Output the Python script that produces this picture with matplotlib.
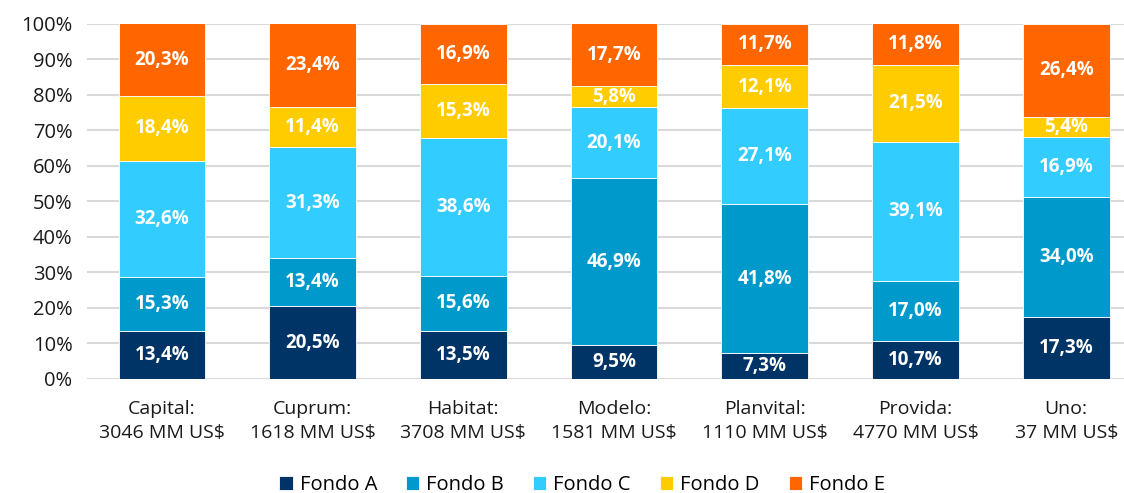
import matplotlib
matplotlib.use("Agg")
import matplotlib.pyplot as plt
import numpy as np

categories = ["Capital:\n3046 MM US$", "Cuprum:\n1618 MM US$", "Habitat:\n3708 MM US$",
              "Modelo:\n1581 MM US$", "Planvital:\n1110 MM US$", "Provida:\n4770 MM US$",
              "Uno:\n37 MM US$"]
fondo_a = [13.4, 20.5, 13.5, 9.5, 7.3, 10.7, 17.3]
fondo_b = [15.3, 13.4, 15.6, 46.9, 41.8, 17.0, 34.0]
fondo_c = [32.6, 31.3, 38.6, 20.1, 27.1, 39.1, 16.9]
fondo_d = [18.4, 11.4, 15.3, 5.8, 12.1, 21.5, 5.4]
fondo_e = [20.3, 23.4, 16.9, 17.7, 11.7, 11.8, 26.4]
series_names = ["Fondo A", "Fondo B", "Fondo C", "Fondo D", "Fondo E"]
colors = ["#003366", "#0099CC", "#33CCFF", "#FFCC00", "#FF6600"]

plt.rcParams['font.family'] = ['Open Sans', 'DejaVu Sans']

fig = plt.figure(figsize=(11.24, 4.93), dpi=100)
ax = fig.add_axes([86.5/1124, (493-379)/493, (1124-86.5)/1124, (379-23.5)/493])

x = np.arange(len(categories))
bottom = np.zeros(len(categories))
handles = []
for name, vals, col in zip(series_names, [fondo_a, fondo_b, fondo_c, fondo_d, fondo_e], colors):
    vals = np.array(vals)
    b = ax.bar(x, vals, 0.575, bottom=bottom, color=col, edgecolor="white", linewidth=0.6,
               label=name, zorder=3)
    handles.append(b)
    for xi, v, bt in zip(x, vals, bottom):
        ax.text(xi, bt + v / 2, f"{v:.1f}%".replace(".", ","), ha="center", va="center",
                color="white", fontsize=13.5, fontweight="bold", zorder=4)
    bottom += vals

ax.set_ylim(0, 100)
ax.set_xlim(-0.5, (1124 - 162) / 150.7)
ax.set_yticks(np.arange(0, 101, 10))
ax.set_yticklabels([f"{v}%" for v in range(0, 101, 10)], fontsize=14.5, color="#1a1a1a")
ax.set_xticks(x)
ax.set_xticklabels(categories, fontsize=14, color="#1a1a1a", linespacing=1.45)
ax.tick_params(axis="both", length=0)
ax.tick_params(axis="x", pad=15)
ax.tick_params(axis="y", pad=10)
ax.grid(axis="y", color="#d9d9d9", linewidth=1.5, zorder=0)
ax.set_axisbelow(True)
for s in ax.spines.values():
    s.set_visible(False)

fig.legend(handles=handles, labels=series_names, loc="center", bbox_to_anchor=(0.518, 0.016),
           ncol=5, frameon=False, fontsize=14.5, handlelength=0.65, handleheight=0.65,
           handletextpad=0.35, columnspacing=1.45)

fig.savefig("out.png", dpi=100)
